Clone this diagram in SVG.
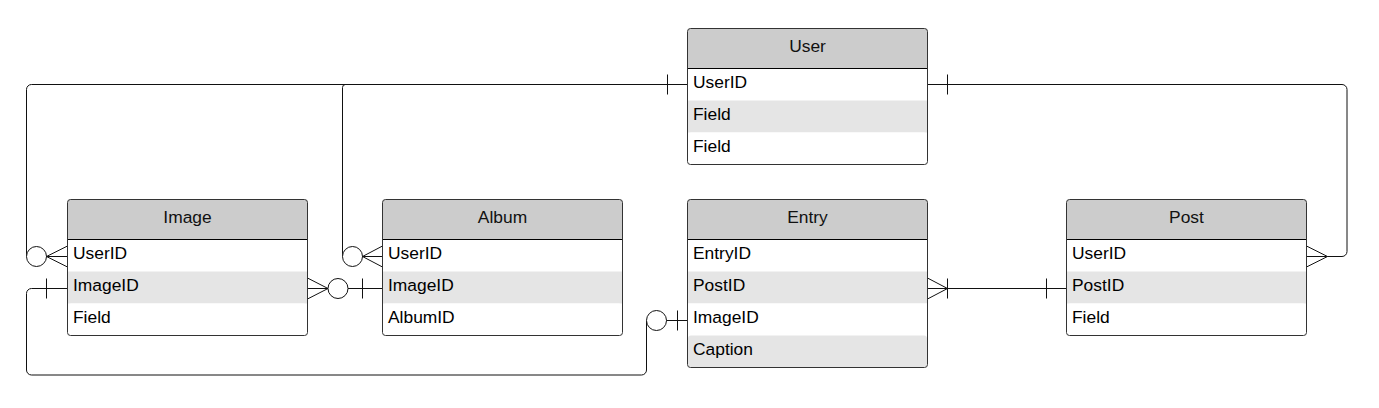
<svg xmlns="http://www.w3.org/2000/svg" width="1379" height="408" viewBox="0 0 1379 408">
<style>
.frame{fill:none;stroke:#333;stroke-width:1}
.hdr{fill:#cccccc}
.row{fill:#ffffff}
.alt{fill:#e5e5e5}
.sep{stroke:#000;stroke-width:1}
.ht{font-family:"Liberation Sans",Arial,sans-serif;font-size:17.4px;fill:#111;text-anchor:middle}
.rt{font-family:"Liberation Sans",Arial,sans-serif;font-size:17.4px;fill:#000}
.ln{fill:none;stroke:#111;stroke-width:1}
.cir{fill:#fff;stroke:#111;stroke-width:1}
</style>
<rect width="1379" height="408" fill="#fff"/>

<g id="connectors">
  <!-- User.UserID -> Image.UserID -->
  <path class="ln" d="M687.5,84.5 H31.5 A5,5 0 0 0 26.5,89.5 V256.5"/>
  <line class="ln" x1="667.5" y1="74.5" x2="667.5" y2="94.5"/>
  <circle class="cir" cx="36.5" cy="256.5" r="10"/>
  <path class="ln" d="M46.5,256.5 L67.5,246 M46.5,256.5 L67.5,256.5 M46.5,256.5 L67.5,267"/>

  <!-- User.UserID -> Album.UserID -->
  <path class="ln" d="M345.5,84.5 A3,3 0 0 0 342.5,87.5 V256.5"/>
  <circle class="cir" cx="352.5" cy="256.5" r="10"/>
  <path class="ln" d="M362.5,256.5 L382.5,246 M362.5,256.5 L382.5,256.5 M362.5,256.5 L382.5,267"/>

  <!-- User.UserID -> Post.UserID -->
  <path class="ln" d="M927.5,84.5 H1342 A5,5 0 0 1 1347,89.5 V251.5 A5,5 0 0 1 1342,256.5 H1327.5"/>
  <line class="ln" x1="947.5" y1="74.5" x2="947.5" y2="94.5"/>
  <path class="ln" d="M1327.5,256.5 L1306.5,246 M1327.5,256.5 L1306.5,256.5 M1327.5,256.5 L1306.5,267"/>

  <!-- Image.ImageID -> Album.ImageID -->
  <path class="ln" d="M328,288.5 L307.5,278 M328,288.5 L307.5,288.5 M328,288.5 L307.5,299"/>
  <circle class="cir" cx="338" cy="288.5" r="10"/>
  <line class="ln" x1="348" y1="288.5" x2="382.5" y2="288.5"/>
  <line class="ln" x1="362.5" y1="278.5" x2="362.5" y2="298.5"/>

  <!-- Image.ImageID -> Entry.ImageID -->
  <path class="ln" d="M67.5,288.5 H31.5 A5,5 0 0 0 26.5,293.5 V370 A5,5 0 0 0 31.5,375 H641.5 A5,5 0 0 0 646.5,370 V320.5"/>
  <line class="ln" x1="46.5" y1="278.5" x2="46.5" y2="298.5"/>
  <circle class="cir" cx="656.5" cy="320.5" r="10"/>
  <line class="ln" x1="666.5" y1="320.5" x2="687.5" y2="320.5"/>
  <line class="ln" x1="677.5" y1="310.5" x2="677.5" y2="330.5"/>

  <!-- Entry.PostID -> Post.PostID -->
  <path class="ln" d="M947.5,288.5 L927.5,278 M947.5,288.5 L927.5,299"/>
  <line class="ln" x1="927.5" y1="288.5" x2="1066.5" y2="288.5"/>
  <line class="ln" x1="947.5" y1="278.5" x2="947.5" y2="298.5"/>
  <line class="ln" x1="1046.5" y1="278.5" x2="1046.5" y2="298.5"/>
</g>

<g id="user">
  <rect class="hdr" x="687.5" y="28.5" width="240" height="40" rx="3"/>
  <rect class="row" x="687.5" y="68.5" width="240" height="32"/>
  <rect class="alt" x="687.5" y="100.5" width="240" height="32"/>
  <rect class="row" x="688" y="132.5" width="239" height="31.5" rx="3"/>
  <line class="sep" x1="687.5" y1="68.5" x2="927.5" y2="68.5"/>
  <rect class="frame" x="687.5" y="28.5" width="240" height="136" rx="3"/>
  <text class="ht" x="807.5" y="52.3">User</text>
  <text class="rt" x="693" y="88.3">UserID</text>
  <text class="rt" x="693" y="120.3">Field</text>
  <text class="rt" x="693" y="152.3">Field</text>
</g>

<g id="image">
  <rect class="hdr" x="67.5" y="199.5" width="240" height="40" rx="3"/>
  <rect class="row" x="67.5" y="239.5" width="240" height="32"/>
  <rect class="alt" x="67.5" y="271.5" width="240" height="32"/>
  <rect class="row" x="68" y="303.5" width="239" height="31.5" rx="3"/>
  <line class="sep" x1="67.5" y1="239.5" x2="307.5" y2="239.5"/>
  <rect class="frame" x="67.5" y="199.5" width="240" height="136" rx="3"/>
  <text class="ht" x="187.5" y="223.3">Image</text>
  <text class="rt" x="73" y="259.3">UserID</text>
  <text class="rt" x="73" y="291.3">ImageID</text>
  <text class="rt" x="73" y="323.3">Field</text>
</g>

<g id="album">
  <rect class="hdr" x="382.5" y="199.5" width="240" height="40" rx="3"/>
  <rect class="row" x="382.5" y="239.5" width="240" height="32"/>
  <rect class="alt" x="382.5" y="271.5" width="240" height="32"/>
  <rect class="row" x="383" y="303.5" width="239" height="31.5" rx="3"/>
  <line class="sep" x1="382.5" y1="239.5" x2="622.5" y2="239.5"/>
  <rect class="frame" x="382.5" y="199.5" width="240" height="136" rx="3"/>
  <text class="ht" x="502.5" y="223.3">Album</text>
  <text class="rt" x="388" y="259.3">UserID</text>
  <text class="rt" x="388" y="291.3">ImageID</text>
  <text class="rt" x="388" y="323.3">AlbumID</text>
</g>

<g id="entry">
  <rect class="hdr" x="687.5" y="199.5" width="240" height="40" rx="3"/>
  <rect class="row" x="687.5" y="239.5" width="240" height="32"/>
  <rect class="alt" x="687.5" y="271.5" width="240" height="32"/>
  <rect class="row" x="687.5" y="303.5" width="240" height="32"/>
  <rect class="alt" x="688" y="335.5" width="239" height="31.5" rx="3"/>
  <line class="sep" x1="687.5" y1="239.5" x2="927.5" y2="239.5"/>
  <rect class="frame" x="687.5" y="199.5" width="240" height="168" rx="3"/>
  <text class="ht" x="807.5" y="223.3">Entry</text>
  <text class="rt" x="693" y="259.3">EntryID</text>
  <text class="rt" x="693" y="291.3">PostID</text>
  <text class="rt" x="693" y="323.3">ImageID</text>
  <text class="rt" x="693" y="355.3">Caption</text>
</g>

<g id="post">
  <rect class="hdr" x="1066.5" y="199.5" width="240" height="40" rx="3"/>
  <rect class="row" x="1066.5" y="239.5" width="240" height="32"/>
  <rect class="alt" x="1066.5" y="271.5" width="240" height="32"/>
  <rect class="row" x="1067" y="303.5" width="239" height="31.5" rx="3"/>
  <line class="sep" x1="1066.5" y1="239.5" x2="1306.5" y2="239.5"/>
  <rect class="frame" x="1066.5" y="199.5" width="240" height="136" rx="3"/>
  <text class="ht" x="1186.5" y="223.3">Post</text>
  <text class="rt" x="1072" y="259.3">UserID</text>
  <text class="rt" x="1072" y="291.3">PostID</text>
  <text class="rt" x="1072" y="323.3">Field</text>
</g>
</svg>
